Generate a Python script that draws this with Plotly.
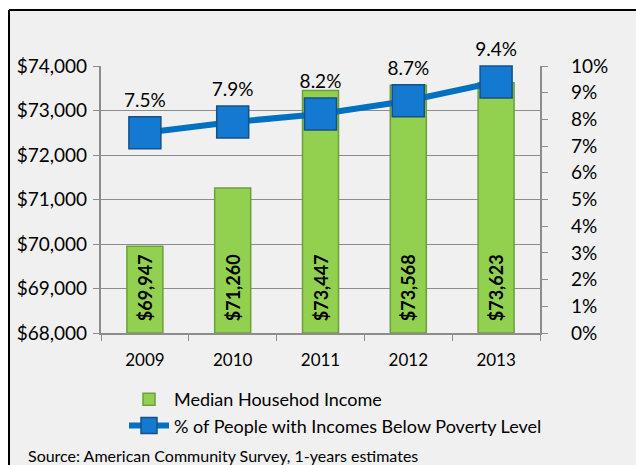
import plotly.graph_objects as go

years = ["2009", "2010", "2011", "2012", "2013"]
income = [69947, 71260, 73447, 73568, 73623]
income_labels = ["$69,947", "$71,260", "$73,447", "$73,568", "$73,623"]
poverty = [0.075, 0.079, 0.082, 0.087, 0.094]
poverty_labels = ["7.5%", "7.9%", "8.2%", "8.7%", "9.4%"]
income_base = 68000

W, H = 636, 465
L, R, T, B = 101, 636 - 540, 66, 465 - 333
pw, ph = W - L - R, H - T - B

def px(x):
    return (x - L) / pw

def py(y):
    return (H - B - y) / ph

FONT = "Lato"
PAD = "\u00a0\u00a0"

fig = go.Figure()
fig.add_trace(go.Bar(
    x=years, y=[v - income_base for v in income], base=income_base,
    name="Median Househod Income",
    marker=dict(color="#92d050", line=dict(color="#6f9f3a", width=1.5)),
    width=0.41,
    text=[PAD + s for s in income_labels], textposition="inside",
    insidetextanchor="start",
    textangle=-90, textfont=dict(family=FONT, size=18, color="black", weight="bold"),
    cliponaxis=False,
))
fig.add_trace(go.Scatter(
    x=years, y=poverty, yaxis="y2", mode="lines+markers+text",
    name="% of People with Incomes Below Poverty Level",
    line=dict(color="#0070c0", width=6),
    marker=dict(symbol="square", size=32, color="#1479d0",
                line=dict(color="#14508a", width=1.5)),
    text=poverty_labels, textposition="top center",
    textfont=dict(family=FONT, size=19, color="black"),
    cliponaxis=False,
))

fig.update_layout(
    width=W, height=H,
    margin=dict(l=L, r=R, t=T, b=B),
    paper_bgcolor="white", plot_bgcolor="rgba(0,0,0,0)",
    font=dict(family=FONT, size=17, color="black"),
    bargap=0.59,
    showlegend=True,
    legend=dict(x=px(124), y=py(381), xanchor="left", yanchor="top",
                bgcolor="rgba(0,0,0,0)", font=dict(family=FONT, size=18),
                tracegroupgap=0, itemwidth=40),
    xaxis=dict(type="category", showline=True, linecolor="#8c8c8c", linewidth=1.5,
               ticks="outside", tickson="boundaries", ticklen=6, tickcolor="#8c8c8c",
               tickfont=dict(size=17), showgrid=False, ticklabelstandoff=11),
    yaxis=dict(range=[68000, 74000], dtick=1000, tickformat="$,.0f",
               ticksuffix="\u2009",
               showline=True, linecolor="#8c8c8c", linewidth=1.5,
               ticks="outside", ticklen=6, tickcolor="#8c8c8c",
               gridcolor="#8c8c8c", gridwidth=1.3, tickfont=dict(size=19),
               zeroline=False),
    yaxis2=dict(range=[0, 0.10], dtick=0.01, tickformat=".0%", overlaying="y",
                tickprefix="\u00a0\u00a0\u00a0\u00a0",
                side="right", showline=True, linecolor="#8c8c8c", linewidth=1.5,
                ticks="outside", ticklen=6, tickcolor="#8c8c8c",
                showgrid=False, zeroline=False, tickfont=dict(size=19)),
    shapes=[
        dict(type="rect", xref="paper", yref="paper",
             x0=px(9), x1=px(700), y0=py(520), y1=py(10),
             fillcolor="#f0f0f0", line=dict(width=0), layer="below"),
        dict(type="line", xref="paper", yref="paper",
             x0=px(9), x1=px(700), y0=py(10), y1=py(10),
             line=dict(color="black", width=2), layer="below"),
        dict(type="line", xref="paper", yref="paper",
             x0=px(9), x1=px(9), y0=py(10), y1=py(520),
             line=dict(color="black", width=2), layer="below"),
    ],
    annotations=[dict(text="Source: American Community Survey, 1-years estimates",
                      xref="paper", yref="paper", x=px(26), y=py(455),
                      xanchor="left", yanchor="middle", showarrow=False,
                      font=dict(family=FONT, size=16))],
)

fig.write_html(
    "out.html",
    config={"displayModeBar": False},
    post_script=(
        "document.documentElement.style.margin='0';"
        "document.documentElement.style.overflow='hidden';"
        "document.body.style.margin='0';document.body.style.overflow='hidden';"
    ),
)
